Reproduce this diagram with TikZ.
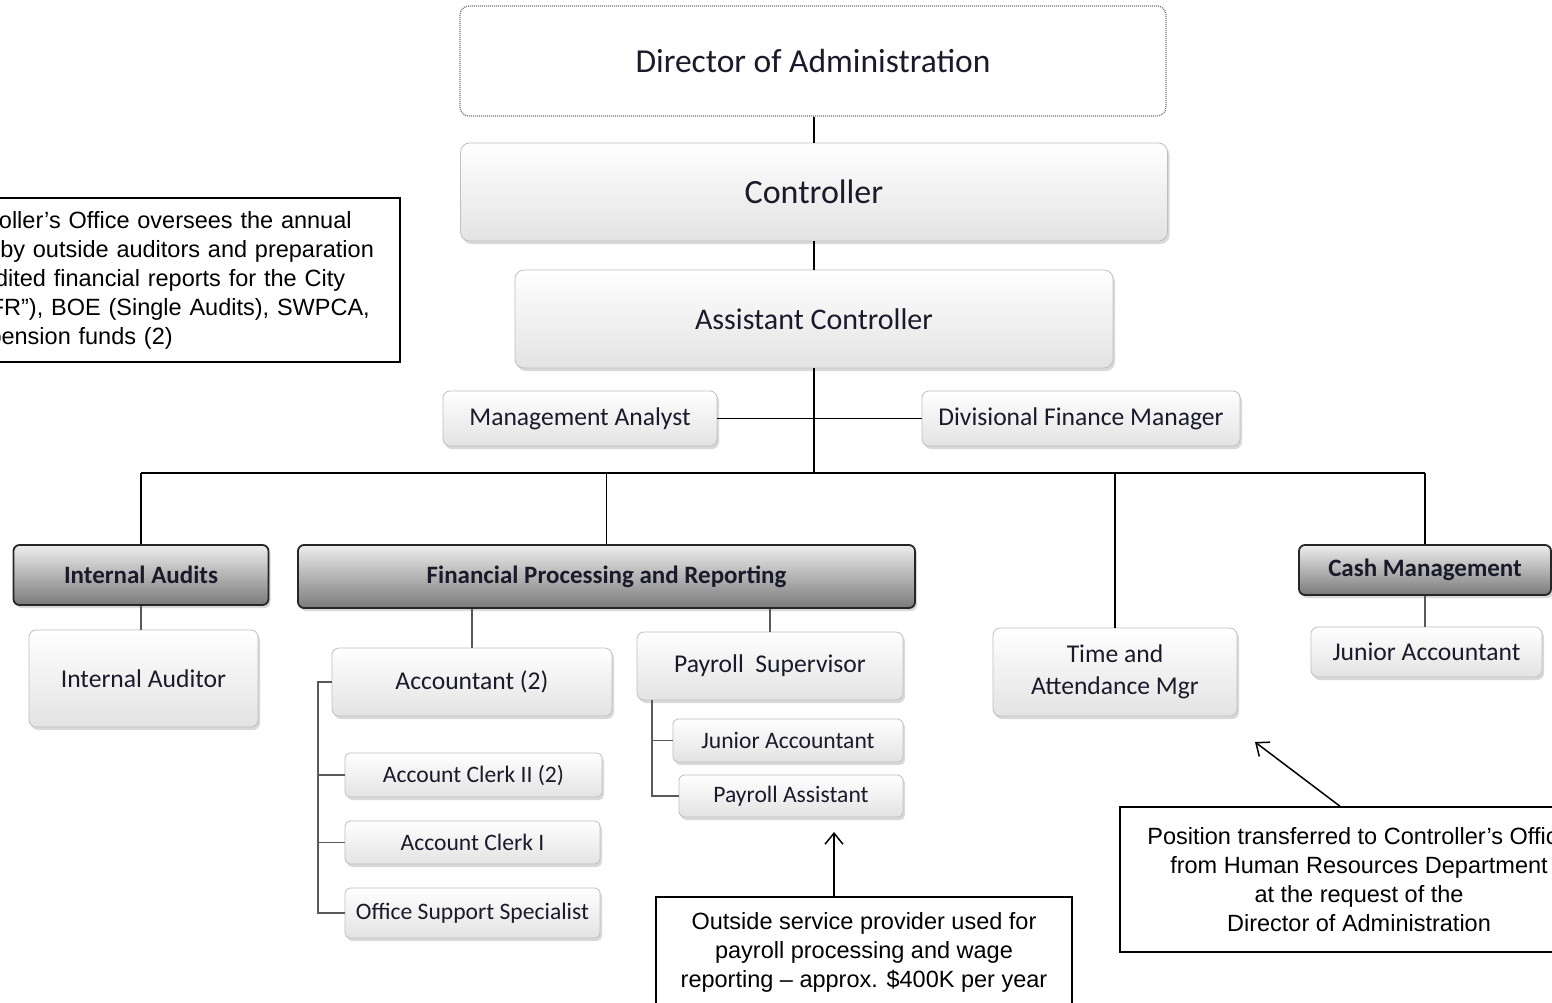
\documentclass[tikz,border=0pt]{standalone}
\usepackage{fontspec}
\setmainfont{Carlito}
\newfontfamily\arialfont{Liberation Sans}
\usetikzlibrary{shadows,arrows.meta}
\definecolor{txt}{HTML}{1A1A2A}
\begin{document}
\begin{tikzpicture}[x=1pt,y=-1pt,
  shad/.style={drop shadow={shadow xshift=2pt, shadow yshift=-3pt, opacity=0.3}},
  lbox/.style={draw=black!25, line width=0.8pt, rounded corners=7pt, top color=white, bottom color=black!11, shad, inner sep=0pt, text=txt, align=center, font=\fontsize{25.6}{32}\selectfont},
  sbox/.style={lbox, rounded corners=5pt, font=\fontsize{23.6}{28}\selectfont},
  dbox/.style={draw=black!85, line width=1.8pt, rounded corners=6pt, top color=black!7, bottom color=black!52, shad, inner sep=0pt, text=txt, font=\bfseries\fontsize{25}{30}\selectfont},
  topbox/.style={draw=black!55, line width=1.2pt, dash pattern=on 1pt off 1pt, rounded corners=9pt, fill=white, inner sep=0pt, text=txt, font=\fontsize{33.5}{40}\selectfont},
  note/.style={draw=black, line width=1.5pt, fill=white, inner sep=0pt, align=center, font=\arialfont\fontsize{23.5}{29}\selectfont},
  conn/.style={line width=1.6pt, black},
  gconn/.style={line width=1.6pt, black!65},
  arr/.style={line width=1.5pt, black, -{Straight Barb[length=11pt,width=18pt]}}]
\useasboundingbox (0,0) rectangle (1552,1002);
\clip (0,0) rectangle (1552,1002);

% top chain
\node[topbox, minimum width=706, minimum height=110] (dir) at (813,61) {Director of Administration};
\node[lbox, rounded corners=9pt, minimum width=707, minimum height=98, font=\fontsize{34}{40}\selectfont] (ctrl) at (814,192) {Controller};
\node[lbox, rounded corners=9pt, minimum width=598, minimum height=98, font=\fontsize{30}{36}\selectfont] (ac) at (814,319) {Assistant Controller};
\node[lbox, minimum width=274, minimum height=55] (ma) at (580,418.5) {Management Analyst};
\node[lbox, minimum width=318, minimum height=55] (dfm) at (1081,418.5) {Divisional Finance Manager};

% division heads
\node[dbox, minimum width=255, minimum height=60] (ia) at (141,575) {Internal Audits};
\node[dbox, minimum width=617, minimum height=63] (fpr) at (606.5,576.5) {Financial Processing and Reporting};
\node[dbox, minimum width=252, minimum height=50] (cm) at (1425,570) {Cash Management};

% staff
\node[lbox, minimum width=229, minimum height=97] (iaud) at (143.5,678.5) {Internal Auditor};
\node[lbox, minimum width=280, minimum height=68] (acc) at (472,682) {Accountant (2)};
\node[lbox, minimum width=266, minimum height=68] (ps) at (770,666) {Payroll~ Supervisor};
\node[sbox, minimum width=257, minimum height=44] (ac2) at (473.5,775) {Account Clerk II (2)};
\node[sbox, minimum width=255, minimum height=43] (ac1) at (472.5,842.5) {Account Clerk I};
\node[sbox, minimum width=255, minimum height=50] (oss) at (472.5,913) {Office Support Specialist};
\node[sbox, minimum width=230, minimum height=43] (ja1) at (788,740.5) {Junior Accountant};
\node[sbox, minimum width=224, minimum height=42] (pa) at (791,796) {Payroll Assistant};
\node[lbox, minimum width=244, minimum height=88] (ta) at (1115,672) {Time and\\Attendance Mgr};
\node[lbox, minimum width=231, minimum height=50] (ja2) at (1426.5,652) {Junior Accountant};

% notes
\node[note, align=left, text width=447pt, inner xsep=11.5pt, minimum height=164] (n1) at (165,280)
  {Controller’s Office oversees the annual\\audit by outside auditors and preparation\\of audited financial reports for the City\\(“CAFR”), BOE (Single Audits), SWPCA,\\and pension funds (2)};
\node[note, minimum width=416, minimum height=110] (n2) at (864,952)
  {Outside service provider used for\\payroll processing and wage\\reporting – approx. \$400K per year};
\node[note, minimum width=478, minimum height=145] (n3) at (1359,879.5)
  {Position transferred to Controller’s Office\\from Human Resources Department\\at the request of the\\Director of Administration};

% connectors
\coordinate (bus) at (814,473);
\draw[conn] (ctrl.north |- dir.south) -- (ctrl.north);
\draw[conn] (ctrl.south) -- (ctrl.south |- ac.north);
\draw[conn] (ac.south) -- (ac.south |- bus);
\draw[conn] (ma.east) -- (dfm.west);
\draw[conn] (ia.north |- bus) -- (cm.north |- bus);
\draw[conn] (ia.north) -- (ia.north |- bus);
\draw[conn] (fpr.north) -- (fpr.north |- bus);
\draw[conn] (ta.north) -- (ta.north |- bus);
\draw[conn] (cm.north) -- (cm.north |- bus);
\draw[gconn] (ia.south) -- (ia.south |- iaud.north);
\draw[gconn] (cm.south) -- (cm.south |- ja2.north);
\draw[gconn] (acc.north) -- (acc.north |- fpr.south);
\draw[gconn] (ps.north) -- (ps.north |- fpr.south);

\coordinate (ax) at (318,0);
\draw[gconn] (acc.west) -- (acc.west -| ax) |- (oss.west);
\draw[gconn] (ax |- ac2.west) -- (ac2.west);
\draw[gconn] (ax |- ac1.west) -- (ac1.west);

\coordinate (px) at (652,0);
\draw[gconn] (px |- ps.south) |- (pa.west);
\draw[gconn] (px |- ja1.west) -- (ja1.west);

\coordinate (t2) at (834,832);
\draw[arr] (t2 |- n2.north) -- (t2);
\coordinate (s3) at (1340,0);
\coordinate (t3) at (1255,742);
\draw[arr] (s3 |- n3.north) -- (t3);
\end{tikzpicture}
\end{document}
